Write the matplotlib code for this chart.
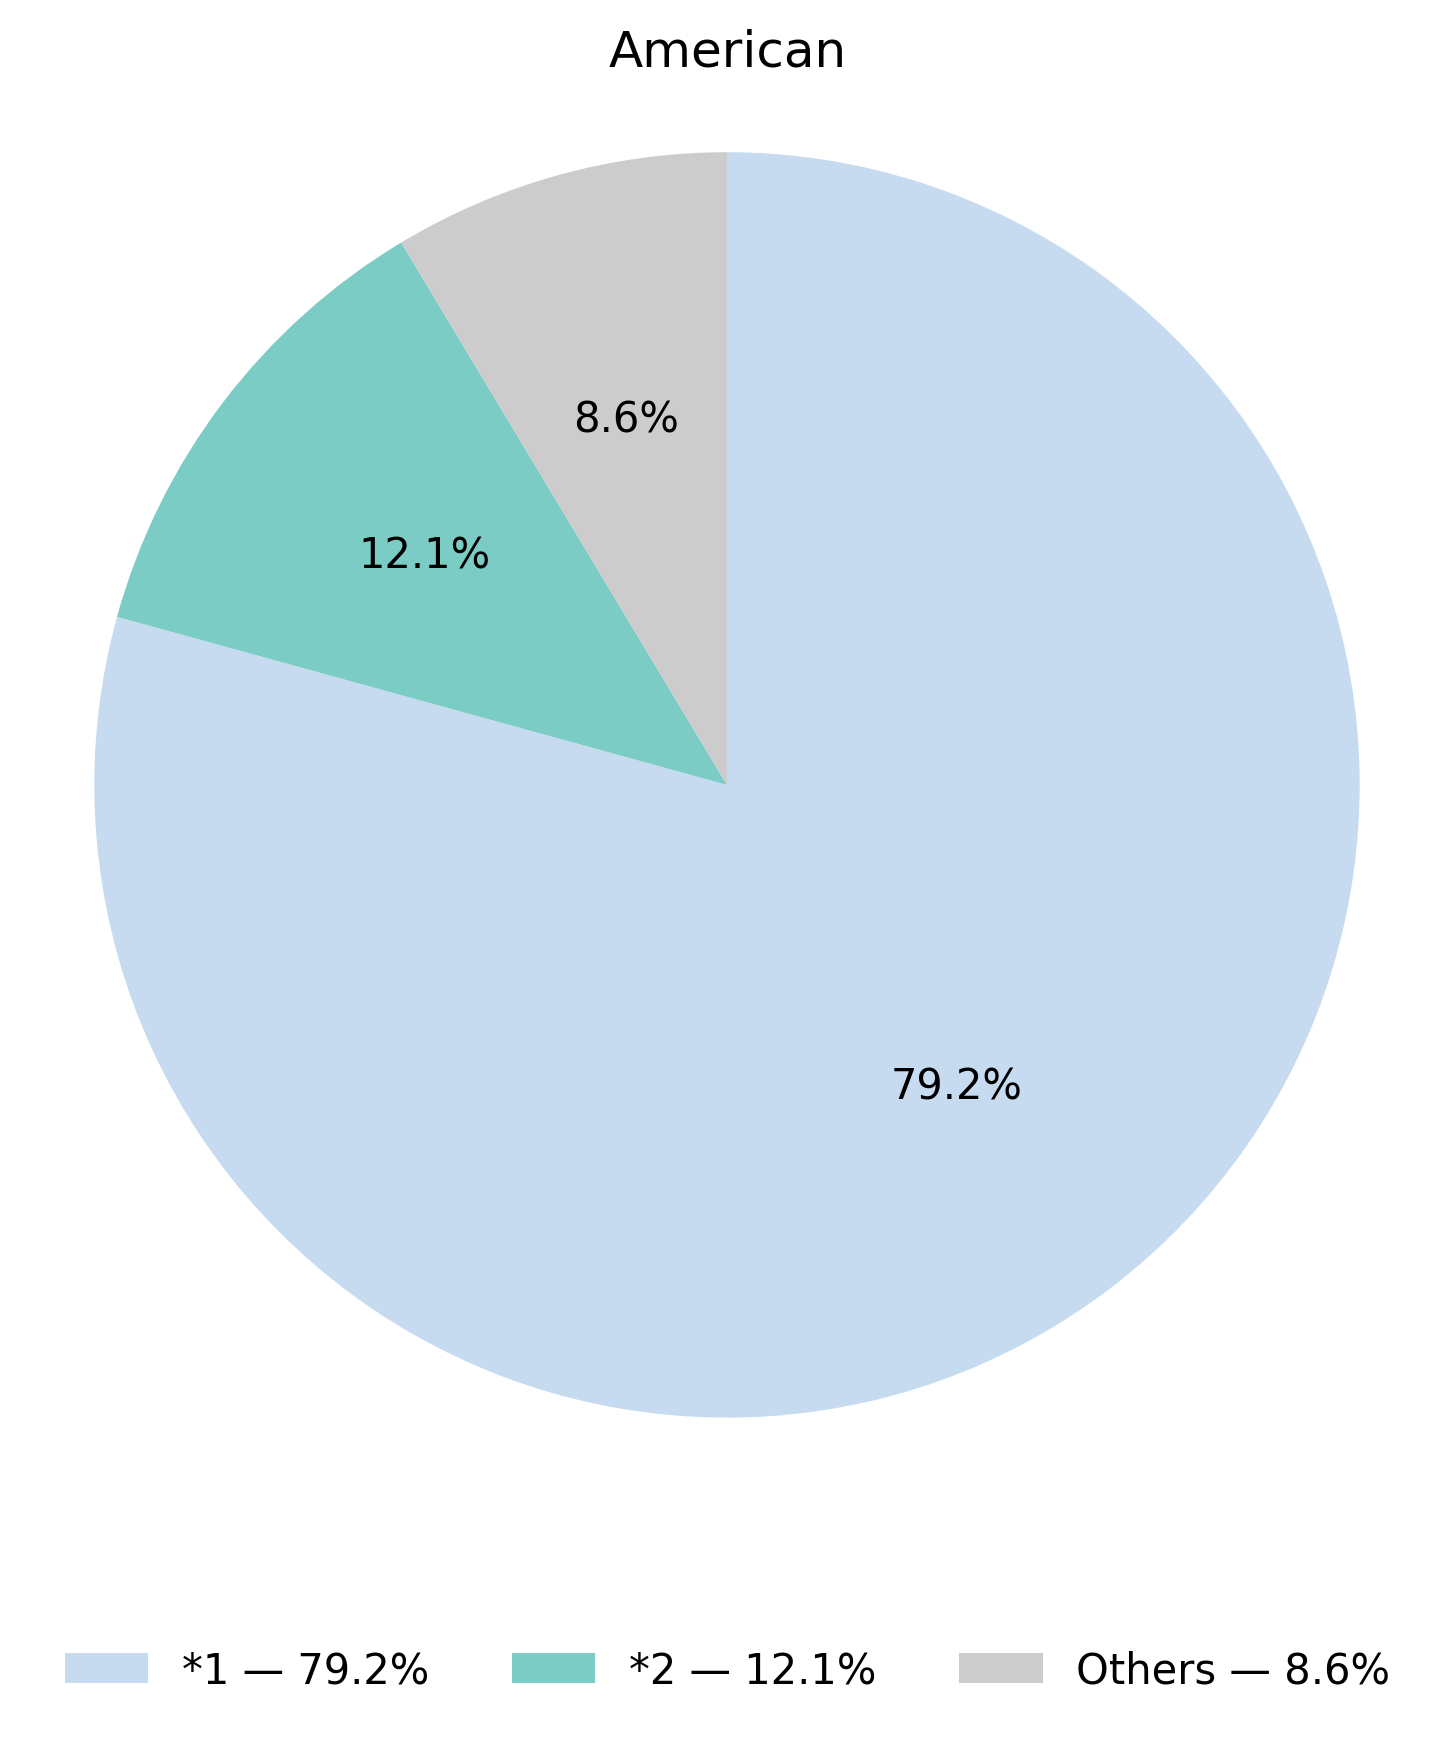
import matplotlib
matplotlib.use("Agg")
import matplotlib.pyplot as plt

title = "American"
labels = ["*1", "*2", "Others"]
shares = [79.2, 12.1, 8.6]
colors = ["#c6dbef", "#7bccc4", "#cccccc"]

fig = plt.figure(figsize=(4.85, 5.81), dpi=300)
ax = fig.add_axes([0.0213, 0.1498, 0.9567, 0.7986])

wedges, texts, autotexts = ax.pie(
    shares, colors=colors, startangle=90, counterclock=False,
    autopct="%1.1f%%", pctdistance=0.6,
    textprops={"fontsize": 10, "color": "black"},
)
# show the shares as given (they don't sum to exactly 100)
for t, s in zip(autotexts, shares):
    t.set_text(f"{s:.1f}%")

ax.set_xlim(-1.1, 1.1)
ax.set_ylim(-1.1, 1.1)
ax.set_aspect("equal")

fig.text(0.5, 0.970, title, ha="center", va="center", fontsize=12)

legend_labels = [f"{l} \u2014 {s:.1f}%" for l, s in zip(labels, shares)]
fig.legend(wedges, legend_labels, loc="center", bbox_to_anchor=(0.5, 0.041),
           ncol=3, frameon=False, fontsize=10)

fig.savefig("out.png", dpi=300)
